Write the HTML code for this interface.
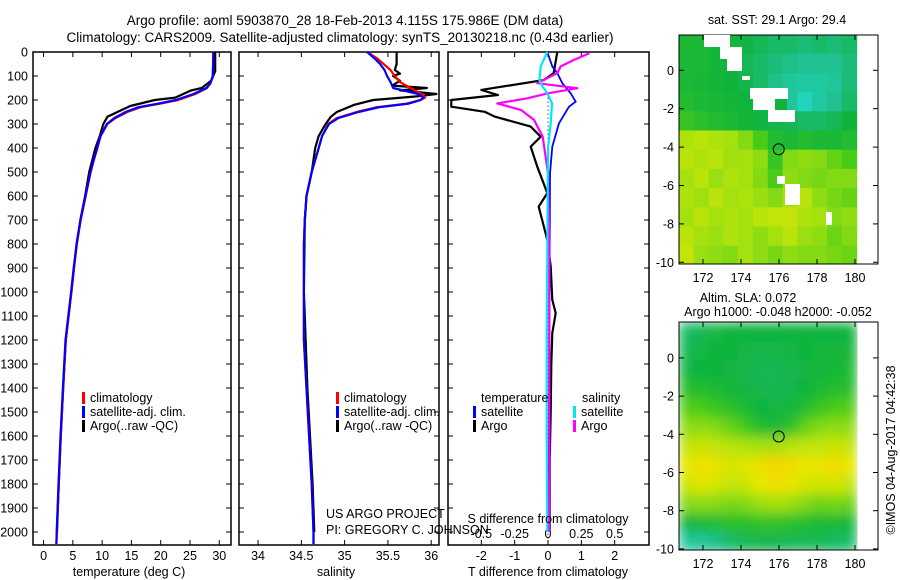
<!DOCTYPE html>
<html><head><meta charset="utf-8"><style>
html,body{margin:0;padding:0;background:#fff;}
svg{display:block;font-family:"Liberation Sans",sans-serif;}
</style></head><body>
<svg id="c" width="900" height="580" viewBox="0 0 900 580" xmlns="http://www.w3.org/2000/svg">
<defs>
<filter id="blur" x="0" y="0" width="1" height="1"><feGaussianBlur stdDeviation="6" edgeMode="duplicate"/></filter>
<clipPath id="clipM1"><rect x="679" y="35" width="180" height="229"/></clipPath>
<clipPath id="clipM2"><rect x="679" y="322" width="180" height="228"/></clipPath>
</defs>
<text x="345" y="25" text-anchor="middle" font-size="13.5">Argo profile: aoml 5903870_28 18-Feb-2013 4.115S 175.986E (DM data)</text>
<text x="340" y="42" text-anchor="middle" font-size="13.5">Climatology: CARS2009. Satellite-adjusted climatology: synTS_20130218.nc (0.43d earlier)</text>
<g id="g"></g>
</svg>
<script>
// ---------- data ----------
const tClimDepth=[0,100,130,150,175,200,215,230,250,275,300,350,400,450,500,600,700,800,900,1000,1200,1400,1600,1800,2000,2050];
const tClimVals =[29.0,28.9,28.5,27.9,25.9,23.0,20.0,16.6,14.3,12.3,10.9,9.75,9.2,8.6,8.05,7.2,6.35,5.7,5.2,4.75,3.8,3.35,2.95,2.6,2.27,2.2];
const tSatVals  =[29.0,28.9,28.5,27.8,25.6,22.6,19.6,16.2,14.0,12.1,10.8,9.7,9.15,8.55,8.0,7.15,6.3,5.65,5.15,4.7,3.75,3.3,2.9,2.55,2.25,2.2];
const tArgoDepth=[0,80,120,150,160,190,200,225,250,270,300,350,400,500,600,700,800,1000,1200,1400,1600,1800,2000];
const tArgoVals =[29.3,29.3,28.6,27.0,25.2,22.5,19.0,14.8,12.6,10.9,10.2,9.6,8.85,7.8,7.1,6.3,5.65,4.75,3.8,3.35,2.95,2.6,2.3];

const sClimDepth=[0,25,50,75,100,125,150,175,190,200,215,230,250,275,300,350,400,500,600,700,800,1000,1200,1400,1600,1800,2000,2050];
const sClimVals =[35.26,35.37,35.45,35.53,35.58,35.64,35.76,35.89,35.93,35.87,35.72,35.37,35.14,34.91,34.81,34.74,34.70,34.62,34.56,34.54,34.53,34.53,34.53,34.56,34.59,34.62,34.64,34.64];
const sSatVals  =[35.26,35.34,35.41,35.46,35.49,35.53,35.56,35.85,35.91,35.88,35.74,35.40,35.16,34.93,34.82,34.74,34.70,34.62,34.56,34.54,34.53,34.53,34.53,34.56,34.59,34.62,34.64,34.64];
const sArgoDepth=[0,50,75,90,100,120,140,150,160,175,185,200,220,250,270,300,350,400,500,600,700,1000,1400,1800,2000];
const sArgoVals =[35.60,35.60,35.58,35.64,35.56,35.64,35.55,35.95,35.64,36.06,35.83,35.33,35.11,34.91,34.84,34.78,34.70,34.66,34.62,34.56,34.54,34.53,34.57,34.63,34.65];

const dTDepth=[0,88,117,158,179,200,228,249,269,311,353,394,478,588,644,783,894,1033,1088,1171,1300,1500,1700,2000];
const dTArgo =[0.28,0.17,-0.13,-2.0,-1.5,-2.9,-2.9,-1.9,-1.6,-0.52,-0.22,-0.52,-0.32,-0.02,-0.28,-0.02,0.08,0.13,0.23,0.13,0.1,0.08,0.05,0.05];
const dTSatDepth=[0,60,88,130,172,207,228,297,394,506,800,1200,1600,2000];
const dTSat =[-0.02,0.13,0.28,0.43,0.68,0.83,0.63,0.33,0.13,0.06,0.05,0.04,0.03,0.02];
const dSDepth=[5,33,60,88,130,151,172,193,214,242,283,353,506,800,1200,1600,2000];
const dSArgo =[0.31,0.195,0.095,0.07,-0.08,0.22,0.0,-0.155,-0.38,-0.2,-0.105,-0.04,0.0,0.01,0.01,0.01,0.01];
const dSSatDepth=[0,60,117,144,172,214,297,400,1171,1600,2000];
const dSSat =[-0.005,-0.055,-0.065,-0.04,-0.005,0.03,0.02,0.0,-0.01,-0.01,-0.005];

const depthTicks=[0,100,200,300,400,500,600,700,800,900,1000,1100,1200,1300,1400,1500,1600,1700,1800,1900,2000];
const tempTicks=[0,5,10,15,20,25,30];
const salTicks=[34,34.5,35,35.5,36];
const salTickLabels=["34","34.5","35","35.5","36"];
const dTTicks=[-2,-1,0,1,2];
const dSTicks=[-0.5,-0.25,0,0.25,0.5];
const dSTickLabels=["-0.5","-0.25","0","0.25","0.5"];
const latTicks=[0,-2,-4,-6,-8,-10];
const lonTicks=[172,174,176,178,180];

const sstGrid=[
[.38,.38,.36,.36,.34,.32,.3,.3,.28,.3,.28,.3],
[.38,.38,.36,.35,.32,.3,.28,.26,.24,.25,.25,.28],
[.38,.37,.36,.35,.33,.3,.26,.22,.2,.2,.22,.28],
[.4,.38,.37,.36,.35,.32,.3,.22,.12,.2,.25,.3],
[.45,.42,.4,.38,.36,.34,.33,.32,.3,.3,.32,.35],
[.68,.7,.68,.66,.6,.5,.4,.38,.4,.38,.38,.4],
[.7,.68,.7,.65,.66,.62,.45,.6,.62,.6,.55,.5],
[.66,.7,.64,.68,.66,.6,.5,.62,.6,.58,.6,.6],
[.68,.65,.7,.66,.68,.64,.6,.66,.7,.62,.58,.55],
[.66,.7,.66,.68,.66,.7,.72,.72,.68,.66,.6,.62],
[.7,.66,.64,.68,.66,.62,.66,.7,.64,.62,.56,.6],
[.72,.64,.62,.6,.66,.62,.58,.62,.6,.6,.58,.56]];
const slaGrid=[
[.3,.32,.34,.35,.35,.35,.35,.35,.35,.35,.35,.35],
[.32,.34,.35,.35,.34,.33,.33,.34,.35,.36,.36,.36],
[.34,.35,.35,.34,.33,.32,.32,.33,.34,.36,.37,.38],
[.42,.4,.38,.36,.34,.33,.32,.33,.35,.38,.4,.42],
[.52,.5,.46,.42,.38,.35,.34,.36,.4,.46,.5,.52],
[.62,.62,.6,.55,.48,.4,.38,.42,.55,.6,.62,.62],
[.72,.74,.72,.7,.68,.66,.66,.7,.72,.72,.74,.72],
[.8,.84,.82,.76,.78,.84,.88,.86,.8,.82,.86,.8],
[.74,.78,.76,.72,.74,.8,.84,.82,.76,.74,.76,.72],
[.6,.62,.6,.58,.6,.64,.66,.64,.6,.56,.58,.56],
[.35,.38,.4,.42,.42,.44,.44,.42,.4,.38,.38,.36],
[.2,.22,.26,.3,.32,.33,.33,.32,.32,.32,.3,.3]];
const argoLon=175.986, argoLat=-4.115;

// ---------- helpers ----------
const NS="http://www.w3.org/2000/svg";
const G=document.getElementById('g');
function mk(tag,attrs,parent){const e=document.createElementNS(NS,tag);for(const k in attrs)e.setAttribute(k,attrs[k]);(parent||G).appendChild(e);return e;}
function txt(x,y,s,size,anchor,parent){const e=mk('text',{x:x,y:y,'font-size':size,'text-anchor':anchor||'start'},parent);e.textContent=s;return e;}
const yTop=52,yBot=545;
const yD=d=>yTop+d*0.24;
function xs(x0,x1,mn,mx){return v=>x0+(v-mn)/(mx-mn)*(x1-x0);}
const P1={x0:33,x1:231}, P2={x0:239,x1:439}, P3={x0:448,x1:649};
const xT=xs(P1.x0,P1.x1,-1.8,32), xS=xs(P2.x0,P2.x1,33.78,36.09), xDT=xs(P3.x0,P3.x1,-3,3.03), xDS=v=>xDT(v*4);

function frame(P,name){
  const r=mk('rect',{x:P.x0,y:yTop,width:P.x1-P.x0,height:yBot-yTop,fill:'none',stroke:'#000','stroke-width':1.5});
  
  
  depthTicks.forEach(d=>{
    const t1=mk('line',{x1:P.x0,x2:P.x0+5,y1:yD(d),y2:yD(d),stroke:'#000'});
    
    
    const t2=mk('line',{x1:P.x1-5,x2:P.x1,y1:yD(d),y2:yD(d),stroke:'#000'});
    
    
  });
}
function xticks(P,ticks,labels,fx,ly){
  ticks.forEach((v,i)=>{
    const x=fx(v);
    const a=mk('line',{x1:x,x2:x,y1:yBot,y2:yBot-5,stroke:'#000'});
    
    
    const b=mk('line',{x1:x,x2:x,y1:yTop,y2:yTop+5,stroke:'#000'});
    
    
    const t=txt(x,ly,labels[i],12.5,'middle');
    
    
  });
}
function line(depths,vals,fx,color,name,w){
  const pts=depths.map((d,i)=>fx(vals[i]).toFixed(1)+','+yD(d).toFixed(1)).join(' ');
  const p=mk('polyline',{points:pts,fill:'none',stroke:color,'stroke-width':w||2.2,'stroke-linejoin':'round'});
  
  
}
function legend(x,y,color,label){
  const b=mk('rect',{x:x,y:y-10,width:3,height:12,fill:color});
  
  
  const t=txt(x+8,y,label,12.5);
  
  
}

// ---------- panel 1 ----------
frame(P1,'temperature-panel');
depthTicks.forEach(d=>{const t=txt(28,yD(d)+4.5,String(d),12.5,'end');
  
  });
xticks(P1,tempTicks,tempTicks.map(String),xT,560);
line(tArgoDepth,tArgoVals,xT,'#000000','temp-argo-line');
line(tClimDepth,tClimVals,xT,'#ff0000','temp-climatology-line');
line(tClimDepth,tSatVals,xT,'#0000ff','temp-satellite-line');
legend(82,402,'#ff0000','climatology');
legend(82,416,'#0000ff','satellite-adj. clim.');
legend(82,430,'#000000','Argo(..raw -QC)');
(function(){const t=txt(129,576,'temperature (deg C)',12.5,'middle');

})();

// ---------- panel 2 ----------
frame(P2,'salinity-panel');
xticks(P2,salTicks,salTickLabels,xS,560);
line(sArgoDepth,sArgoVals,xS,'#000000','sal-argo-line');
line(sClimDepth,sClimVals,xS,'#ff0000','sal-climatology-line');
line(sClimDepth,sSatVals,xS,'#0000ff','sal-satellite-line');
legend(336,402,'#ff0000','climatology');
legend(336,416,'#0000ff','satellite-adj. clim.');
legend(336,430,'#000000','Argo(..raw -QC)');
(function(){let t=txt(336,576,'salinity',12.5,'middle');


t=txt(326,518,'US ARGO PROJECT',12.5);


t=txt(326,534,'PI: GREGORY C. JOHNSON',12.5);

})();

// ---------- panel 3 ----------
frame(P3,'difference-panel');
xticks(P3,dTTicks,dTTicks.map(String),xDT,560);
dSTicks.forEach((v,i)=>{const t=txt(xDS(v),538,dSTickLabels[i],12.5,'middle');
  
  });
(function(){const z=mk('line',{x1:xDT(0),x2:xDT(0),y1:yD(190),y2:yBot,stroke:'#000','stroke-dasharray':'1,3'});

})();
line(dTDepth,dTArgo,xDT,'#000000','t-diff-argo-line');
line(dTSatDepth,dTSat,xDT,'#0000ff','t-diff-satellite-line',1.8);
line(dSDepth,dSArgo,xDS,'#ff00ff','s-diff-argo-line');
line(dSSatDepth,dSSat,xDS,'#00e8f0','s-diff-satellite-line');
(function(){let t=txt(481,402,'temperature',12.5);


t=txt(582,402,'salinity',12.5);

})();
legend(473,416,'#0000ff','satellite');
legend(473,430,'#000000','Argo');
legend(573,416,'#00e8f0','satellite');
legend(573,430,'#ff00ff','Argo');
(function(){let t=txt(548,523,'S difference from climatology',12.5,'middle');


t=txt(548,576,'T difference from climatology',12.5,'middle');

})();

// ---------- maps ----------
const stops=[[0.1,[32,216,192]],[0.25,[32,192,144]],[0.35,[16,180,60]],[0.5,[72,204,24]],[0.65,[160,224,16]],[0.8,[232,232,0]],[0.9,[248,210,0]]];
function cmap(v){
  if(v<=stops[0][0])return 'rgb('+stops[0][1]+')';
  for(let i=1;i<stops.length;i++){if(v<=stops[i][0]){const a=stops[i-1],b=stops[i],f=(v-a[0])/(b[0]-a[0]);
    return 'rgb('+a[1].map((c,k)=>Math.round(c+f*(b[1][k]-c))).join(',')+')';}}
  return 'rgb('+stops[stops.length-1][1]+')';
}
const lonX=lon=>703+(lon-172)*19;
const LON0=170.75,LON1=180.1,LAT0=1.85;
function map(grid,yLat,top,bot,name,clip,blur){
  const gm=mk('g',{'clip-path':'url(#'+clip+')'});
  
  
  const inner=mk('g',blur?{filter:'url(#blur)'}:{},gm);
  const dl=(LON1-LON0)/grid[0].length;
  grid.forEach((row,r)=>row.forEach((v,c)=>{
    const x=lonX(LON0+c*dl), y=yLat(LAT0-r);
    const rc=mk('rect',{x:x-0.3,y:y-0.3,width:lonX(LON0+(c+1)*dl)-x+0.6,height:yLat(LAT0-r-1)-y+0.6,fill:cmap(v)},inner);
    
    
  }));
  const f=mk('rect',{x:679,y:top,width:199,height:bot-top,fill:'none',stroke:'#000'});
  
  
  latTicks.forEach(l=>{const y=yLat(l);
    const a=mk('line',{x1:679,x2:684,y1:y,y2:y,stroke:'#000'});
    const b=mk('line',{x1:873,x2:878,y1:y,y2:y,stroke:'#000'});
    const t=txt(674,y+4.5,String(l),12.5,'end');});
  lonTicks.forEach(l=>{const x=lonX(l);
    const a=mk('line',{x1:x,x2:x,y1:top,y2:top+5,stroke:'#000'});
    const b=mk('line',{x1:x,x2:x,y1:bot-5,y2:bot,stroke:'#000'});
    const t=txt(x,bot+18,String(l),12.5,'middle');});
  const c=mk('circle',{cx:lonX(argoLon),cy:yLat(argoLat),r:5.5,fill:'none',stroke:'#000','stroke-width':1});
  
  
  return gm;
}
const yLat1=l=>70.3-l*19.2, yLat2=l=>357.9-l*19.1;
map(sstGrid,yLat1,35,264,'sst-map','clipM1',false);
map(slaGrid,yLat2,322,550,'sla-map','clipM2',true);
// land/no-data patches on SST map
[[704,35,26,12],[720,47,22,12],[727,59,15,12],[742,76,8,4],[750,88,38,11],[753,99,24,11],[768,110,27,12],[777,176,8,8],[785,184,15,21],[826,212,6,13]].forEach(r=>{
  const e=mk('rect',{x:r[0],y:r[1],width:r[2],height:r[3],fill:'#fff'});
  
  
});
(function(){const e=mk('rect',{x:775,y:99,width:12,height:11,fill:'rgb(16,180,60)'});

})();
(function(){let t=txt(777,24,'sat. SST: 29.1  Argo: 29.4',12.5,'middle');

t=txt(748,302,'Altim. SLA: 0.072',12.5,'middle');

t=txt(778,316,'Argo h1000: -0.048 h2000: -0.052',12.5,'middle');

t=txt(0,0,'©IMOS 04-Aug-2017 04:42:38',12.5,'middle');
t.setAttribute('transform','translate(895,450) rotate(-90)');
})();
</script>
</body></html>
